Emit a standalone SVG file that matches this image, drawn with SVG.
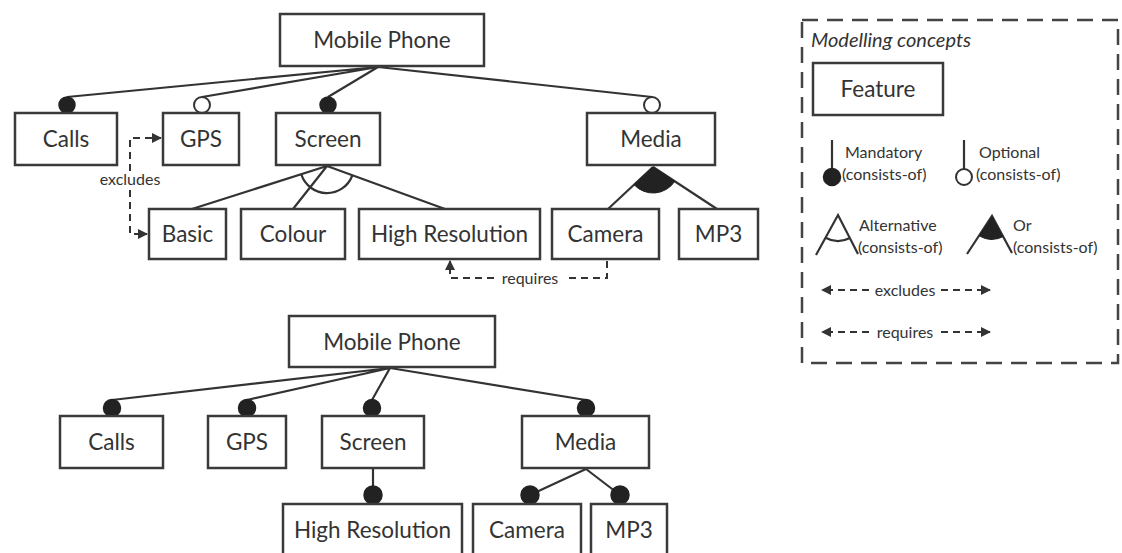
<svg xmlns="http://www.w3.org/2000/svg" width="1122" height="553" viewBox="0 0 1122 553">
<style>
.box{fill:#fff;stroke:#3a3a3a;stroke-width:2.5}
.lbl{font-family:Lato,"Liberation Sans",sans-serif;font-size:22.5px;fill:#333;text-anchor:middle}
.sm{font-family:Lato,"Liberation Sans",sans-serif;font-size:16px;fill:#333}
.ln{fill:none;stroke:#333;stroke-width:2.2}
.dash{fill:none;stroke:#333;stroke-width:2;stroke-dasharray:7,5}
.man{fill:#222;stroke:#222;stroke-width:1.5}
.opt{fill:#fff;stroke:#333;stroke-width:2}
</style>
<defs>
<marker id="arr" viewBox="0 0 10 10" refX="9" refY="5" markerWidth="10" markerHeight="10" markerUnits="userSpaceOnUse" orient="auto">
<path d="M0,0 L10,5 L0,10 z" fill="#333"/>
</marker>
</defs>
<rect width="1122" height="553" fill="#fff"/>

<g id="connectors">
<path class="ln" d="M378,67 L67,97 M378,67 L202,97 M378,67 L328,97 M378,67 L652,97"/>
<circle class="man" cx="67" cy="105" r="8"/>
<circle class="opt" cx="202" cy="105" r="8"/>
<circle class="man" cx="328" cy="105" r="8"/>
<circle class="opt" cx="652" cy="105" r="8"/>
<path class="ln" d="M327,166 L192,209 M327,166 L293,209 M327,166 L445,209"/>
<path class="ln" d="M301.3,174.4 A27,27 0 0 0 352.3,175.5"/>
<path class="ln" d="M653,167 L608,209 M653,167 L717,209"/>
<path d="M653,167 L634,184.7 A26,26 0 0 0 674.8,181.3 Z" fill="#222" stroke="#222" stroke-width="1"/>
<path class="dash" d="M130,171 V138 H161" marker-end="url(#arr)"/>
<path class="dash" d="M130,190 V234 H147" marker-end="url(#arr)"/>
<text class="sm" x="130" y="185" text-anchor="middle">excludes</text>
<path class="dash" d="M607,261 V278 H566"/>
<path class="dash" d="M494,278 H450 V261" marker-end="url(#arr)"/>
<text class="sm" x="530" y="283.5" text-anchor="middle">requires</text>
<path class="ln" d="M390,368 L112,400 M390,368 L247,400 M390,368 L372,400 M390,368 L586,400"/>
<circle class="man" cx="112" cy="408" r="8.5"/>
<circle class="man" cx="247" cy="408" r="8.5"/>
<circle class="man" cx="372" cy="408" r="8.5"/>
<circle class="man" cx="586" cy="408" r="8.5"/>
<path class="ln" d="M373,468 V487 M586,469 L530,495 M586,469 L620,495"/>
<circle class="man" cx="373" cy="495" r="9"/>
<circle class="man" cx="530" cy="495" r="9"/>
<circle class="man" cx="620" cy="495" r="9"/>
</g>

<g id="top-mobile-phone"><rect class="box" x="280" y="14" width="204" height="52"/><text class="lbl" x="382" y="48">Mobile Phone</text></g>
<g id="top-calls"><rect class="box" x="15" y="113" width="102" height="52"/><text class="lbl" x="66" y="147">Calls</text></g>
<g id="top-gps"><rect class="box" x="163" y="113" width="76" height="52"/><text class="lbl" x="201" y="147">GPS</text></g>
<g id="top-screen"><rect class="box" x="276" y="113" width="104" height="52"/><text class="lbl" x="328" y="147">Screen</text></g>
<g id="top-media"><rect class="box" x="587" y="113" width="128" height="52"/><text class="lbl" x="651" y="147">Media</text></g>
<g id="top-basic"><rect class="box" x="149" y="209" width="77" height="50"/><text class="lbl" x="187.5" y="242">Basic</text></g>
<g id="top-colour"><rect class="box" x="241" y="209" width="104" height="50"/><text class="lbl" x="293" y="242">Colour</text></g>
<g id="top-high-resolution"><rect class="box" x="359" y="209" width="181" height="50"/><text class="lbl" x="449.5" y="242">High Resolution</text></g>
<g id="top-camera"><rect class="box" x="552" y="209" width="107" height="50"/><text class="lbl" x="605.5" y="242">Camera</text></g>
<g id="top-mp3"><rect class="box" x="679" y="209" width="79" height="50"/><text class="lbl" x="718.5" y="242">MP3</text></g>

<g id="bottom-mobile-phone"><rect class="box" x="289" y="316" width="206" height="51"/><text class="lbl" x="392" y="350">Mobile Phone</text></g>
<g id="bottom-calls"><rect class="box" x="60" y="416" width="103" height="52"/><text class="lbl" x="111.5" y="450">Calls</text></g>
<g id="bottom-gps"><rect class="box" x="208" y="416" width="78" height="52"/><text class="lbl" x="247" y="450">GPS</text></g>
<g id="bottom-screen"><rect class="box" x="322" y="416" width="102" height="52"/><text class="lbl" x="373" y="450">Screen</text></g>
<g id="bottom-media"><rect class="box" x="522" y="416" width="127" height="52"/><text class="lbl" x="585.5" y="450">Media</text></g>
<g id="bottom-high-resolution"><rect class="box" x="283" y="504" width="179" height="54"/><text class="lbl" x="372.5" y="538">High Resolution</text></g>
<g id="bottom-camera"><rect class="box" x="473" y="504" width="108" height="54"/><text class="lbl" x="527" y="538">Camera</text></g>
<g id="bottom-mp3"><rect class="box" x="591" y="504" width="76" height="54"/><text class="lbl" x="629" y="538">MP3</text></g>

<g id="legend">
<rect x="802" y="20" width="316" height="343" fill="none" stroke="#444" stroke-width="2.5" stroke-dasharray="16,9"/>
<text x="811" y="47" font-family="Lato,'Liberation Sans',sans-serif" font-size="20" font-style="italic" fill="#333">Modelling concepts</text>
<rect class="box" x="813" y="63" width="130" height="52"/>
<text class="lbl" x="878" y="97">Feature</text>
<path class="ln" d="M832,140 V169 M964,140 V169"/>
<circle class="man" cx="832" cy="177" r="8.5"/>
<circle class="opt" cx="964" cy="177" r="8"/>
<text class="sm" x="845" y="158">Mandatory</text>
<text class="sm" x="842" y="180">(consists-of)</text>
<text class="sm" x="979" y="158">Optional</text>
<text class="sm" x="976" y="180">(consists-of)</text>
<path class="ln" d="M816,255 L838,215 L858,254"/>
<path class="ln" d="M825.5,237.8 A26,26 0 0 0 849.9,238.1"/>
<text class="sm" x="859" y="231">Alternative</text>
<text class="sm" x="858" y="253">(consists-of)</text>
<path class="ln" d="M967,254 L992,216 L1012,253"/>
<path d="M992,216 L978.8,236 A24,24 0 0 0 1003.4,237.1 Z" fill="#222"/>
<text class="sm" x="1013" y="231">Or</text>
<text class="sm" x="1013" y="253">(consists-of)</text>
<path class="dash" d="M869,290 H822" marker-end="url(#arr)"/>
<path class="dash" d="M941,290 H990" marker-end="url(#arr)"/>
<text class="sm" x="905" y="295.5" text-anchor="middle">excludes</text>
<path class="dash" d="M869,332 H822" marker-end="url(#arr)"/>
<path class="dash" d="M941,332 H990" marker-end="url(#arr)"/>
<text class="sm" x="905" y="337.5" text-anchor="middle">requires</text>
</g>
</svg>
